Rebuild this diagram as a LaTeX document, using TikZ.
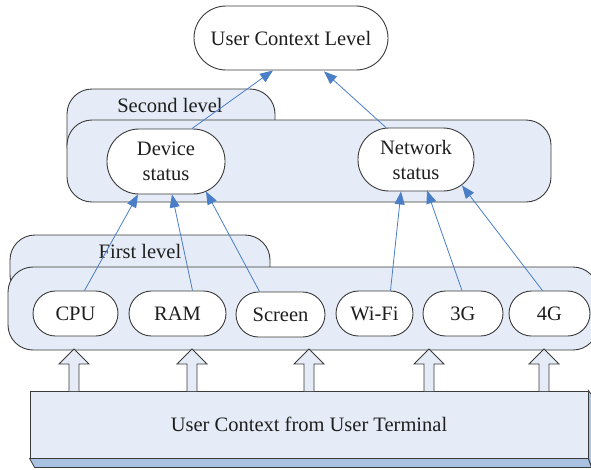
\documentclass[tikz,border=0pt]{standalone}
\usepackage{fontspec}
\setmainfont{Liberation Serif}
\usetikzlibrary{arrows.meta,calc}
\definecolor{panelblue}{HTML}{E5ECF7}
\definecolor{edgegray}{HTML}{3A3A3A}
\definecolor{linkblue}{HTML}{4A7EC6}
\definecolor{shadeblue}{HTML}{A9C2E2}
\definecolor{inkgray}{HTML}{1E1E1E}

\begin{document}
\begin{tikzpicture}[x=1pt,y=-1pt,
  font=\fontsize{20.5}{25}\selectfont, text=inkgray,
  panel/.style={draw=edgegray, fill=panelblue, line width=0.9pt, rounded corners=25pt},
  pill/.style={draw=edgegray, fill=white, line width=0.9pt, rounded corners=#1,
    inner sep=0pt, align=center},
  link/.style={draw=linkblue, line width=0.8pt, -{Triangle[length=13pt,width=10pt]}},
  hollow/.style={draw=edgegray, fill=panelblue, line width=0.8pt, line join=miter}]

\useasboundingbox (0,0) rectangle (591,469);

% top level
\node[pill=32pt, minimum width=194pt, minimum height=64pt] (ucl) at (291,38) {User Context Level};

% second level container with its tab
\draw[panel] (67,89) rectangle (275,170);
\draw[panel] (67,120) rectangle (551,202);
\node (lbl2) at (170,105) {Second level};
\node[pill=32pt, minimum width=118pt, minimum height=65pt] (dev) at (166,161.5) {Device\\status};
\node[pill=31pt, minimum width=116pt, minimum height=63pt] (net) at (416,159.5) {Network\\status};

% first level container with its tab
\draw[panel] (10,235) rectangle (270,300);
\draw[panel] (8,267) rectangle (598,350);
\node (lbl1) at (140,251) {First level};
\begin{scope}[every node/.style={pill=22.5pt, minimum height=45pt}]
  \node[minimum width=85pt] (cpu) at (75.5,313.5) {CPU};
  \node[minimum width=97pt] (ram) at (177.5,313.5) {RAM};
  \node[minimum width=89pt] (scr) at (280.5,314.5) {Screen};
  \node[minimum width=77pt] (wifi) at (374.5,313.5) {Wi-Fi};
  \node[minimum width=80pt] (g3) at (463,313.5) {3G};
  \node[minimum width=81pt] (g4) at (549.5,313.5) {4G};
\end{scope}

% links between levels
\draw[link] ([xshift=9pt]cpu.north) -- ([xshift=-28pt]dev.south);
\draw[link] ([xshift=15pt]ram.north) -- ([xshift=6pt]dev.south);
\draw[link] ([xshift=-21pt]scr.north) -- ([xshift=40pt,yshift=3pt]dev.south);
\draw[link] ([xshift=16pt]wifi.north) -- ([xshift=-15pt]net.south);
\draw[link] ([xshift=-1pt]g3.north) -- ([xshift=11pt,yshift=1pt]net.south);
\draw[link] ([xshift=-7pt]g4.north) -- ([xshift=46pt,yshift=6pt]net.south);
\draw[link] ([xshift=26pt]dev.north) -- ([xshift=-18pt]ucl.south);
\draw[link] ([xshift=-30pt]net.north) -- ([xshift=33pt,yshift=-1pt]ucl.south);

% terminal block drawn as a flat box with depth
\node[draw=edgegray, fill=panelblue, line width=0.9pt, minimum width=558pt,
  minimum height=67pt, inner sep=0pt] (term) at (309,424.5) {User Context from User Terminal};
\draw[draw=edgegray, fill=shadeblue, line width=0.8pt]
  (term.south west) -- (term.south east) -- ++(3,9) -- ($(term.south west)+(5,9)$) -- cycle;
\draw[draw=edgegray, fill=shadeblue, line width=0.8pt]
  (term.north east) -- ++(3,4) -- ++(0,72) -- (term.south east) -- cycle;
\draw[edgegray, line width=1.6pt] (term.south west) -- (term.south east);

% hollow arrows feeding the first level
\foreach \ax in {74,192,309,429,544} {
  \draw[hollow] (\ax-5,391) -- (\ax-5,364) -- (\ax-15,364) -- (\ax,349)
    -- (\ax+15,364) -- (\ax+5,364) -- (\ax+5,391);
}
\end{tikzpicture}
\end{document}
